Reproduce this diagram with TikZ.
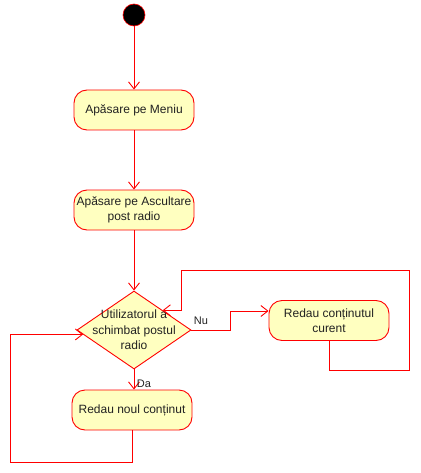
\documentclass[tikz,border=0pt]{standalone}
\usepackage{fontspec}
\setmainfont{Liberation Sans}
\usetikzlibrary{arrows.meta,shapes.geometric}
\definecolor{umlred}{HTML}{FF0000}
\definecolor{umlfill}{HTML}{FFFFC0}
\definecolor{umltext}{HTML}{222222}
\begin{document}
\begin{tikzpicture}[x=1pt,y=-1pt,
  act/.style={draw=umlred,fill=umlfill,rounded corners=13pt,minimum width=120pt,minimum height=40pt,inner sep=2pt,align=center,text=umltext,font=\fontsize{12pt}{14.5pt}\selectfont,line width=0.9pt},
  dec/.style={draw=umlred,fill=umlfill,diamond,minimum width=114pt,minimum height=78pt,inner sep=0pt,line width=0.9pt},
  flow/.style={draw=umlred,line width=0.9pt,-{Straight Barb[length=7pt,width=11pt]}},
  plain/.style={draw=umlred,line width=0.9pt},
  lbl/.style={font=\fontsize{11pt}{13pt}\selectfont,text=umltext,inner sep=0pt}]
\useasboundingbox (0,0) rectangle (420,473);
\node[circle,fill=black,draw=umlred,line width=0.6pt,minimum size=22pt,inner sep=0pt] (start) at (134,15) {};
\node[act] (menu) at (134,110) {Apăsare pe Meniu};
\node[act] (listen) at (134,210) {Apăsare pe Ascultare\\post radio};
\node[dec] (dm) at (134,330) {};
\node[align=center,text=umltext,font=\fontsize{12pt}{15.5pt}\selectfont,inner sep=0pt] (dmt) at (134,330) {Utilizatorul a\\schimbat postul\\radio};
\node[act] (cur) at (329,320.5) {Redau conținutul\\curent};
\node[act] (new) at (132,410) {Redau noul conținut};
\coordinate (lp1) at (10,462);
\coordinate (lp2) at (409,370);
\coordinate (lp3) at (181,270);
\coordinate (nuk) at (230,330);
\draw[flow] (start) -- (menu);
\draw[flow] (menu) -- (listen);
\draw[flow] (listen) -- (dm.north);
\draw[flow] (dm.east) -- (nuk) |- ([yshift=9.5pt]cur.west);
\draw[flow] (dm.south) -- (dm.south |- new.north);
\draw[flow] (cur.south) |- (lp2) |- (lp3) |- (dm.north east);
\draw[flow] (new.south) |- (lp1) |- (dm.185);
\node[lbl] (nu) at (201,321) {Nu};
\node[lbl] (da) at (144,384) {Da};
\end{tikzpicture}
\end{document}
